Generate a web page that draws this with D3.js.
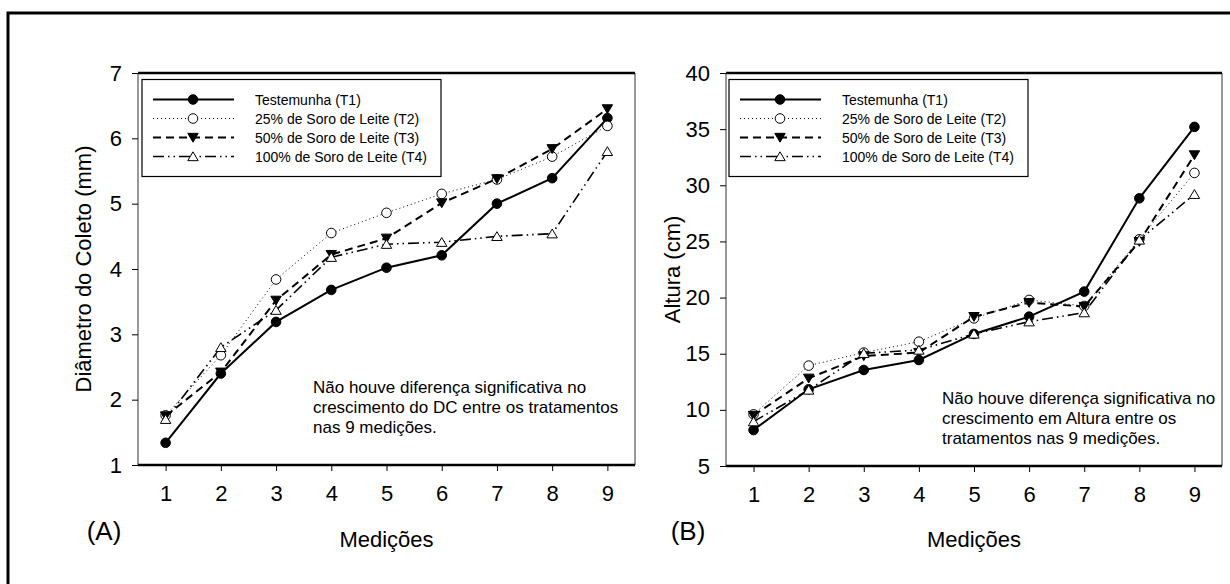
<!DOCTYPE html>
<html>
<head>
<meta charset="utf-8">
<script src="https://cdn.jsdelivr.net/npm/d3@7"></script>
<style>
  body { margin: 0; background: #fff; }
  svg { display: block; font-family: Arial, "Liberation Sans", sans-serif; }
</style>
</head>
<body>
<svg id="chart" width="1230" height="584"></svg>
<script>
// Medições (x categories)
const medicoes = [1, 2, 3, 4, 5, 6, 7, 8, 9]

const seriesNames = [
  "Testemunha (T1)",
  "25% de Soro de Leite (T2)",
  "50% de Soro de Leite (T3)",
  "100% de Soro de Leite (T4)"
]

// Panel A - Diâmetro do Coleto (mm)
const dcT1 = [1.34, 2.40, 3.19, 3.68, 4.02, 4.21, 5.00, 5.39, 6.31]
const dcT2 = [1.76, 2.68, 3.84, 4.55, 4.86, 5.15, 5.37, 5.72, 6.19]
const dcT3 = [1.75, 2.42, 3.52, 4.22, 4.47, 5.01, 5.38, 5.84, 6.45]
const dcT4 = [1.70, 2.80, 3.37, 4.18, 4.38, 4.41, 4.50, 4.54, 5.80]
const dcTicks = [1, 2, 3, 4, 5, 6, 7]

// Panel B - Altura (cm)
const altT1 = [8.2, 11.83, 13.55, 14.44, 16.76, 18.3, 20.53, 28.84, 35.2]
const altT2 = [9.6, 13.94, 15.1, 16.07, 18.15, 19.79, 19.25, 25.19, 31.1]
const altT3 = [9.5, 12.81, 14.8, 15.1, 18.3, 19.55, 19.2, 24.98, 32.7]
const altT4 = [8.95, 11.77, 15.04, 15.33, 16.76, 17.85, 18.66, 25.13, 29.2]
const altTicks = [5, 10, 15, 20, 25, 30, 35, 40]

const styles = [
  { dash: null, width: 2, marker: "circle", fill: "#000" },
  { dash: "1,3", width: 1, marker: "circle", fill: "#fff" },
  { dash: "8,5", width: 2, marker: "down", fill: "#000" },
  { dash: "11,4,1.5,4,1.5,4", width: 1.6, marker: "up", fill: "#fff" }
]

const svg = d3.select("#chart")

// outer frame (right and bottom edges fall outside the picture)
svg.append("rect")
  .attr("x", 8).attr("y", 13)
  .attr("width", 1240).attr("height", 620)
  .attr("fill", "none")
  .attr("stroke", "#000")
  .attr("stroke-width", 3)

function drawMarker(g, type, x, y, fill) {
  if (type === "circle") {
    g.append("circle")
      .attr("cx", x).attr("cy", y).attr("r", 4.8)
      .attr("fill", fill).attr("stroke", "#000").attr("stroke-width", 1)
  } else {
    const s = 5.2
    const pts = type === "down"
      ? [[x - s, y - s * 0.8], [x + s, y - s * 0.8], [x, y + s * 0.9]]
      : [[x - s, y + s * 0.8], [x + s, y + s * 0.8], [x, y - s * 0.9]]
    g.append("path")
      .attr("d", d3.line()(pts) + "Z")
      .attr("fill", fill).attr("stroke", "#000").attr("stroke-width", 1)
  }
}

function drawPanel(opt) {
  const { left, right, top, bottom } = opt
  const g = svg.append("g")

  const x = d3.scaleLinear().domain([0.5, 9.5]).range([left, right])
  const y = d3.scaleLinear().domain(opt.yDomain).range([bottom, top])

  // plot frame: thin sides, thick top and bottom
  g.append("line").attr("x1", left).attr("x2", left).attr("y1", top).attr("y2", bottom)
    .attr("stroke", "#333").attr("stroke-width", 1)
  g.append("line").attr("x1", right).attr("x2", right).attr("y1", top).attr("y2", bottom)
    .attr("stroke", "#333").attr("stroke-width", 1)
  g.append("line").attr("x1", left).attr("x2", right).attr("y1", top).attr("y2", top)
    .attr("stroke", "#000").attr("stroke-width", 2.5)

  // axes
  const yAxis = g.append("g")
    .attr("transform", `translate(${left},0)`)
    .call(d3.axisLeft(y).tickValues(opt.yTicks).tickFormat(d3.format("d"))
      .tickSize(6).tickPadding(10))
  yAxis.select(".domain").remove()
  yAxis.selectAll("text").attr("font-size", "22px").attr("fill", "#000")
    .attr("font-family", "Arial, 'Liberation Sans', sans-serif")

  const xAxis = g.append("g")
    .attr("transform", `translate(0,${bottom})`)
    .call(d3.axisBottom(x).tickValues(medicoes).tickSize(6).tickPadding(14))
  xAxis.select(".domain").remove()
  xAxis.selectAll("text").attr("font-size", "22px").attr("fill", "#000")
    .attr("font-family", "Arial, 'Liberation Sans', sans-serif")

  g.append("line").attr("x1", left).attr("x2", right).attr("y1", bottom).attr("y2", bottom)
    .attr("stroke", "#000").attr("stroke-width", 2.5)

  // series
  const line = d3.line().x((d, i) => x(medicoes[i])).y(d => y(d))
  opt.series.forEach((vals, s) => {
    const st = styles[s]
    g.append("path")
      .attr("d", line(vals))
      .attr("fill", "none")
      .attr("stroke", "#000")
      .attr("stroke-width", st.width)
      .attr("stroke-dasharray", st.dash)
  })
  opt.series.forEach((vals, s) => {
    const st = styles[s]
    vals.forEach((v, i) => drawMarker(g, st.marker, x(medicoes[i]), y(v), st.fill))
  })

  // legend
  const lg = g.append("g")
  lg.append("rect")
    .attr("x", opt.legend.x).attr("y", top + 6.5)
    .attr("width", 299).attr("height", 97)
    .attr("fill", "#fff").attr("stroke", "#000").attr("stroke-width", 1.2)
  seriesNames.forEach((name, s) => {
    const st = styles[s]
    const ly = top + 26.5 + s * 19
    const lx = opt.legend.x + 11
    lg.append("line")
      .attr("x1", lx).attr("x2", lx + 81).attr("y1", ly).attr("y2", ly)
      .attr("stroke", "#000").attr("stroke-width", st.width)
      .attr("stroke-dasharray", st.dash)
    drawMarker(lg, st.marker, lx + 40, ly, st.fill)
    lg.append("text")
      .attr("x", lx + 102).attr("y", ly + 5)
      .attr("font-size", "14px")
      .text(name)
  })

  // note
  const note = g.append("text")
    .attr("font-size", "17px")
  opt.note.lines.forEach((t, i) => {
    note.append("tspan")
      .attr("x", opt.note.x)
      .attr("y", opt.note.y + i * 19.8)
      .text(t)
  })

  // titles
  g.append("text")
    .attr("transform", `translate(${opt.yTitleX},${(top + bottom) / 2}) rotate(-90)`)
    .attr("text-anchor", "middle")
    .attr("font-size", "22px")
    .text(opt.yTitle)
  g.append("text")
    .attr("x", (left + right) / 2).attr("y", 547)
    .attr("text-anchor", "middle")
    .attr("font-size", "22px")
    .text("Medições")
  g.append("text")
    .attr("x", opt.tagX).attr("y", 540)
    .attr("text-anchor", "middle")
    .attr("font-size", "26px")
    .text(opt.tag)
}

drawPanel({
  left: 138, right: 635, top: 73, bottom: 465,
  yDomain: [1, 7], yTicks: dcTicks,
  series: [dcT1, dcT2, dcT3, dcT4],
  legend: { x: 142 },
  note: { x: 313, y: 393, lines: [
    "Não houve diferença significativa no",
    "crescimento do DC entre os tratamentos",
    "nas 9 medições."
  ] },
  yTitle: "Diâmetro do Coleto (mm)", yTitleX: 91,
  tag: "(A)", tagX: 104
})

drawPanel({
  left: 726, right: 1222, top: 73, bottom: 466,
  yDomain: [5, 40], yTicks: altTicks,
  series: [altT1, altT2, altT3, altT4],
  legend: { x: 729 },
  note: { x: 942, y: 404, lines: [
    "Não houve diferença significativa no",
    "crescimento em Altura entre os",
    "tratamentos nas 9 medições."
  ] },
  yTitle: "Altura (cm)", yTitleX: 680,
  tag: "(B)", tagX: 688
})
</script>
</body>
</html>
